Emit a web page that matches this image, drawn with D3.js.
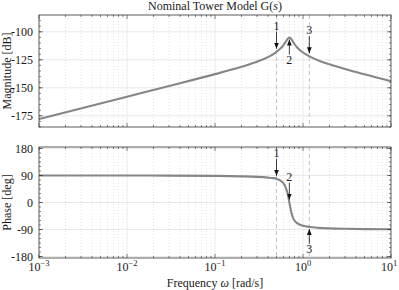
<!DOCTYPE html>
<html>
<head>
<meta charset="utf-8">
<script src="https://d3js.org/d3.v7.min.js"></script>
<style>
  body { margin: 0; background: #fff; }
  text { font-family: "Liberation Serif", "DejaVu Serif", serif; fill: #1a1a1a; }
</style>
</head>
<body>
<div id="bode"></div>
<script>
// frequency samples [rad/s]
const freq = [0.001, 0.01, 0.03, 0.1, 0.2, 0.3, 0.4, 0.45, 0.5, 0.55, 0.6, 0.63, 0.66, 0.68,
              0.7, 0.72, 0.74, 0.77, 0.8, 0.85, 0.9, 1.0, 1.2, 1.5, 2, 3, 5, 10];
const magDb = [-177.9, -157.9, -148.4, -137.8, -131.2, -126.7, -122.6, -120.4, -117.8, -115.2,
               -111.9, -109.5, -107.0, -105.7, -105.2, -105.6, -106.8, -109.0, -110.9, -113.6,
               -115.6, -118.5, -122.2, -125.6, -129.0, -133.2, -138.0, -144.1];
const phaseDeg = [90.0, 89.9, 89.6, 88.7, 87.2, 85.4, 83.0, 81.5, 79.0, 74.0, 64.0, 53.0,
                  36.0, 19.5, 0, -19.5, -35.0, -51.0, -60.0, -68.0, -72.5, -77.6, -81.9,
                  -84.5, -86.3, -87.7, -88.7, -89.4];

// annotated frequencies
const markFreq = [0.5, 0.7, 1.18];
const markLabel = ["1", "2", "3"];
const magArrowDir = ["down", "up", "down"];
const phaseArrowDir = ["down", "down", "up"];
const dashedMarks = [0.5, 1.18];

const magTicks = [-175, -150, -125, -100];
const phaseTicks = [-180, -90, 0, 90, 180];
const xTicks = [0.001, 0.01, 0.1, 1, 10];
const xTickExp = ["\u22123", "\u22122", "\u22121", "0", "1"];

const W = 399, H = 290;
const left = 39, right = 391;
const magBox = {top: 15, bottom: 127};
const phaseBox = {top: 147, bottom: 258};
const fs = 12;

const svg = d3.select("#bode").append("svg")
    .attr("width", W).attr("height", H);

svg.append("defs").append("marker")
    .attr("id", "head")
    .attr("viewBox", "0 0 10 10")
    .attr("refX", 10).attr("refY", 5)
    .attr("markerWidth", 6).attr("markerHeight", 6)
    .attr("markerUnits", "userSpaceOnUse")
    .attr("orient", "auto")
  .append("path")
    .attr("d", "M0,1 L10,5 L0,9 Z")
    .attr("fill", "#111");

const x = d3.scaleLog().domain([1e-3, 10]).range([left, right]);
const yMag = d3.scaleLinear().domain([-185, -85]).range([magBox.bottom, magBox.top]);
const yPh = d3.scaleLinear().domain([-185, 185]).range([phaseBox.bottom, phaseBox.top]);

// minor log positions
const minorX = [];
for (let e = -3; e < 1; e++) {
    for (let m = 2; m <= 9; m++) minorX.push(m * Math.pow(10, e));
}

function panel(box, y, yTicks, yMinorStep, values, axisLabel) {
    const g = svg.append("g");
    const [y0, y1] = y.domain();

    // minor vertical grid (dotted)
    g.selectAll(".mgrid").data(minorX).join("line")
        .attr("x1", d => x(d)).attr("x2", d => x(d))
        .attr("y1", box.top).attr("y2", box.bottom)
        .attr("stroke", "#d4d4d4").attr("stroke-width", 0.6)
        .attr("stroke-dasharray", "1,2");
    // major grid
    g.selectAll(".vgrid").data(xTicks.slice(1, -1)).join("line")
        .attr("x1", d => x(d)).attr("x2", d => x(d))
        .attr("y1", box.top).attr("y2", box.bottom)
        .attr("stroke", "#e3e3e3").attr("stroke-width", 0.8);
    g.selectAll(".hgrid").data(yTicks).join("line")
        .attr("x1", left).attr("x2", right)
        .attr("y1", d => y(d)).attr("y2", d => y(d))
        .attr("stroke", "#e3e3e3").attr("stroke-width", 0.8);

    // dashed marker lines
    g.selectAll(".dash").data(dashedMarks).join("line")
        .attr("x1", d => x(d)).attr("x2", d => x(d))
        .attr("y1", box.top).attr("y2", box.bottom)
        .attr("stroke", "#b5b5b5").attr("stroke-width", 0.8)
        .attr("stroke-dasharray", "4,3");

    // curve
    const pts = freq.map((f, i) => [f, values[i]]);
    g.append("path")
        .datum(pts)
        .attr("fill", "none")
        .attr("stroke", "#868686")
        .attr("stroke-width", 2.1)
        .attr("d", d3.line().x(d => x(d[0])).y(d => y(d[1])).curve(d3.curveMonotoneX));

    // ticks on all sides
    const minorY = d3.range(Math.ceil(y0 / yMinorStep) * yMinorStep, y1, yMinorStep);
    const axisCol = "#333";
    const tk = g.append("g").attr("stroke", axisCol).attr("stroke-width", 0.6);
    minorX.forEach(d => {
        tk.append("line").attr("x1", x(d)).attr("x2", x(d)).attr("y1", box.bottom).attr("y2", box.bottom - 2);
        tk.append("line").attr("x1", x(d)).attr("x2", x(d)).attr("y1", box.top).attr("y2", box.top + 2);
    });
    xTicks.forEach(d => {
        tk.append("line").attr("x1", x(d)).attr("x2", x(d)).attr("y1", box.bottom).attr("y2", box.bottom - 4);
        tk.append("line").attr("x1", x(d)).attr("x2", x(d)).attr("y1", box.top).attr("y2", box.top + 4);
    });
    minorY.forEach(d => {
        tk.append("line").attr("x1", left).attr("x2", left + 2).attr("y1", y(d)).attr("y2", y(d));
        tk.append("line").attr("x1", right).attr("x2", right - 2).attr("y1", y(d)).attr("y2", y(d));
    });
    yTicks.forEach(d => {
        tk.append("line").attr("x1", left).attr("x2", left + 4).attr("y1", y(d)).attr("y2", y(d));
        tk.append("line").attr("x1", right).attr("x2", right - 4).attr("y1", y(d)).attr("y2", y(d));
    });

    // box
    g.append("rect")
        .attr("x", left).attr("y", box.top)
        .attr("width", right - left).attr("height", box.bottom - box.top)
        .attr("fill", "none").attr("stroke", axisCol).attr("stroke-width", 0.8);

    // y tick labels
    g.selectAll(".ylab").data(yTicks).join("text")
        .attr("x", left - 6).attr("y", d => y(d))
        .attr("dy", "0.35em")
        .attr("text-anchor", "end")
        .attr("font-size", fs)
        .text(d => d < 0 ? "-" + Math.abs(d) : d);

    // axis title
    g.append("text")
        .attr("transform", `translate(11,${(box.top + box.bottom) / 2}) rotate(-90)`)
        .attr("text-anchor", "middle")
        .attr("font-size", fs)
        .text(axisLabel);
    return g;
}

function arrows(g, y, values, dirs) {
    markFreq.forEach((f, i) => {
        // curve value at the marker
        const j = d3.bisectLeft(freq, f);
        const t = (Math.log(f) - Math.log(freq[j - 1])) / (Math.log(freq[j]) - Math.log(freq[j - 1]));
        const v = values[j - 1] + t * (values[j] - values[j - 1]);
        const px = x(f), py = y(v);
        const down = dirs[i] === "down";
        const tip = down ? py - 3 : py + 2;
        const start = down ? tip - 17 : tip + 15;
        g.append("line")
            .attr("x1", px).attr("x2", px)
            .attr("y1", start).attr("y2", tip)
            .attr("stroke", "#111").attr("stroke-width", 0.8)
            .attr("marker-end", "url(#head)");
        g.append("text")
            .attr("x", px).attr("y", down ? start - 2 : start + 9)
            .attr("text-anchor", "middle")
            .attr("font-size", fs)
            .text(markLabel[i]);
    });
}

const gMag = panel(magBox, yMag, magTicks, 5, magDb, "Magnitude [dB]");
arrows(gMag, yMag, magDb, magArrowDir);
const gPh = panel(phaseBox, yPh, phaseTicks, 15, phaseDeg, "Phase [deg]");
arrows(gPh, yPh, phaseDeg, phaseArrowDir);

// x tick labels (bottom panel only)
const xl = svg.selectAll(".xlab").data(xTicks).join("text")
    .attr("x", (d, i) => x(d) - (i === xTicks.length - 1 ? 2 : 0))
    .attr("y", 271)
    .attr("text-anchor", "middle")
    .attr("font-size", fs);
xl.append("tspan").text("10");
xl.append("tspan").attr("dy", -5).attr("font-size", 8.5).text((d, i) => xTickExp[i]);

svg.append("text")
    .attr("x", 215).attr("y", 286.5)
    .attr("text-anchor", "middle")
    .attr("font-size", fs)
    .html("Frequency <tspan font-style='italic'>\u03c9</tspan> [rad/s]");

svg.append("text")
    .attr("x", 215).attr("y", 10)
    .attr("text-anchor", "middle")
    .attr("font-size", fs)
    .html("Nominal Tower Model G(<tspan font-style='italic'>s</tspan>)");
</script>
</body>
</html>
